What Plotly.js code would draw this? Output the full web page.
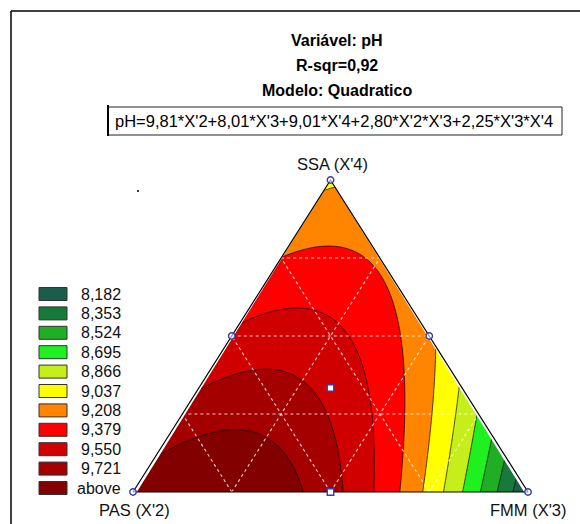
<!DOCTYPE html>
<html>
<head>
<meta charset="utf-8">
<script src="https://cdn.plot.ly/plotly-3.0.1.min.js"></script>
<style>html,body{margin:0;padding:0;background:#fff;}#chart{width:580px;height:524px;}</style>
</head>
<body>
<div id="chart"></div>
<script>
// ---- data ----
const titleLines = ['Variável: pH', 'R-sqr=0,92', 'Modelo: Quadratico'];
const equationText = "pH=9,81*X'2+8,01*X'3+9,01*X'4+2,80*X'2*X'3+2,25*X'3*X'4";
const componentLabels = ["PAS (X'2)", "FMM (X'3)", "SSA (X'4)"];
// model coefficients: linear X'2, X'3, X'4 ; interactions X'2*X'3, X'3*X'4
const linearCoef = [9.81, 8.01, 9.01];
const interactionCoef = [2.80, 2.25];
// contour levels (legend)
const levels = [8.182, 8.353, 8.524, 8.695, 8.866, 9.037, 9.208, 9.379, 9.550, 9.721];
const legendLabels = ['8,182', '8,353', '8,524', '8,695', '8,866', '9,037', '9,208', '9,379', '9,550', '9,721', 'above'];
const bandColors = ['#1b5c4a', '#167a3a', '#1fae24', '#1ff01f', '#c6ee1a', '#ffff00', '#ff8400', '#ff0000', '#d00000', '#a40000', '#820000'];
// design points (X'2, X'3, X'4)
const designX2 = [1, 0, 0, 0.5, 0, 0.5, 1/3];
const designX3 = [0, 1, 0, 0, 0.5, 0.5, 1/3];
const designX4 = [0, 0, 1, 0.5, 0.5, 0, 1/3];
const gridFractions = [0.25, 0.5, 0.75];

// ---- geometry helpers (ternary -> cartesian, triangle with unit base/height) ----
function toXY(a2, a3, a4) { return [a3 + a4 / 2, a4]; }
function model(a2, a3, a4) {
  return linearCoef[0] * a2 + linearCoef[1] * a3 + linearCoef[2] * a4 +
         interactionCoef[0] * a2 * a3 + interactionCoef[1] * a3 * a4;
}

// pixel placement of the plot
const W = 580, H = 524;
const X0pix = 133, X1pix = 528, Ybase = 492, Ytop = 180;
const sx = X1pix - X0pix, sy = Ybase - Ytop;
const xr = [-X0pix / sx, (W - X0pix) / sx];
const yr = [-(H - Ybase) / sy, Ybase / sy];
const P = px => px / W;
const Q = py => 1 - py / H;

// contour grid
const N = 241;
const gx = [], gy = [], gz = [];
for (let i = 0; i < N; i++) gx.push(i / (N - 1));
for (let j = 0; j < N; j++) gy.push(j / (N - 1));
for (let j = 0; j < N; j++) {
  const row = [];
  for (let i = 0; i < N; i++) {
    const a4 = gy[j], a3 = gx[i] - a4 / 2, a2 = 1 - a3 - a4;
    row.push(model(a2, a3, a4));
  }
  gz.push(row);
}

// stepped colorscale
const cs = [];
bandColors.forEach((c, k) => {
  const n = bandColors.length - 1;
  cs.push([Math.max(0, (k - 0.5) / n), c]);
  cs.push([Math.min(1, (k + 0.5) / n), c]);
});

const traces = [];
traces.push({
  type: 'contour', x: gx, y: gy, z: gz,
  autocontour: false,
  contours: { start: levels[0], end: levels[levels.length - 1], size: levels[1] - levels[0], coloring: 'fill' },
  colorscale: cs, showscale: false,
  line: { color: '#000', width: 0.7, smoothing: 1 },
  hoverinfo: 'skip'
});
// white masks outside triangle
traces.push({ type: 'scatter', mode: 'lines', x: [-0.05, 0, 0.5, 0.5, -0.05], y: [-0.02, -0.02, 1, 1.05, 1.05],
  fill: 'toself', fillcolor: '#fff', line: { width: 0 }, hoverinfo: 'skip', showlegend: false });
traces.push({ type: 'scatter', mode: 'lines', x: [1.05, 1, 0.5, 0.5, 1.05], y: [-0.02, -0.02, 1, 1.05, 1.05],
  fill: 'toself', fillcolor: '#fff', line: { width: 0 }, hoverinfo: 'skip', showlegend: false });
traces.push({ type: 'scatter', mode: 'lines', x: [-0.05, 1.05, 1.05, -0.05], y: [0, 0, -0.05, -0.05],
  fill: 'toself', fillcolor: '#fff', line: { width: 0 }, hoverinfo: 'skip', showlegend: false });

// dotted white grid lines
gridFractions.forEach(c => {
  const lines = [
    [toXY(1 - c, 0, c), toXY(0, 1 - c, c)],      // X'4 = c
    [toXY(1 - c, c, 0), toXY(0, c, 1 - c)],      // X'3 = c
    [toXY(c, 1 - c, 0), toXY(c, 0, 1 - c)]       // X'2 = c
  ];
  lines.forEach(l => traces.push({
    type: 'scatter', mode: 'lines', x: [l[0][0], l[1][0]], y: [l[0][1], l[1][1]],
    line: { color: 'rgba(255,255,255,0.8)', width: 1.1, dash: 'dot' }, hoverinfo: 'skip', showlegend: false
  }));
});

// triangle outline
const v = [toXY(1, 0, 0), toXY(0, 1, 0), toXY(0, 0, 1)];
traces.push({ type: 'scatter', mode: 'lines', x: [v[0][0], v[1][0], v[2][0], v[0][0]], y: [v[0][1], v[1][1], v[2][1], v[0][1]],
  line: { color: '#000', width: 1.2 }, hoverinfo: 'skip', showlegend: false });

// design points
const dpx = [], dpy = [];
designX2.forEach((a2, k) => { const p = toXY(a2, designX3[k], designX4[k]); dpx.push(p[0]); dpy.push(p[1]); });
traces.push({ type: 'scatter', mode: 'markers', x: dpx.slice(0, 5), y: dpy.slice(0, 5),
  marker: { symbol: 'circle', size: 6.5, color: 'rgba(255,255,255,0.6)', line: { color: '#3b3bb0', width: 1.4 } }, hoverinfo: 'skip', showlegend: false, cliponaxis: false });
traces.push({ type: 'scatter', mode: 'markers', x: dpx.slice(5), y: dpy.slice(5),
  marker: { symbol: 'square', size: 6.5, color: '#fff', line: { color: '#3b3bb0', width: 1.4 } }, hoverinfo: 'skip', showlegend: false, cliponaxis: false });

// ---- layout decorations ----
const FONT = 'Arial, "Liberation Sans", sans-serif';
const annotations = [];
const shapes = [];
titleLines.forEach((t, k) => annotations.push({
  xref: 'paper', yref: 'paper', x: P(337), y: Q(41 + 25 * k), text: '<b>' + t + '</b>', showarrow: false,
  xanchor: 'center', yanchor: 'middle', font: { family: FONT, size: 16, color: '#000' }
}));
annotations.push({ xref: 'paper', yref: 'paper', x: P(334), y: Q(121), text: equationText, showarrow: false,
  xanchor: 'center', yanchor: 'middle', font: { family: FONT, size: 16.5, color: '#000' } });
shapes.push({ type: 'rect', xref: 'paper', yref: 'paper', x0: P(108), x1: P(562), y0: Q(135), y1: Q(107), line: { color: '#222', width: 1 } });
shapes.push({ type: 'line', xref: 'paper', yref: 'paper', x0: P(108), x1: P(108), y0: Q(136), y1: Q(105), line: { color: '#000', width: 2 } });
// outer frame
shapes.push({ type: 'line', xref: 'paper', yref: 'paper', x0: P(11), x1: P(580), y0: Q(11), y1: Q(11), line: { color: '#000', width: 1.5 } });
shapes.push({ type: 'line', xref: 'paper', yref: 'paper', x0: P(11), x1: P(11), y0: Q(11), y1: Q(524), line: { color: '#000', width: 1.5 } });
// small stray dot
shapes.push({ type: 'circle', xref: 'paper', yref: 'paper', x0: P(137), x1: P(139), y0: Q(192), y1: Q(190), fillcolor: '#000', line: { width: 0 } });

// vertex labels
const labelPos = [[134, 510], [528, 510], [332, 164]];
componentLabels.forEach((t, k) => annotations.push({
  xref: 'paper', yref: 'paper', x: P(labelPos[k][0]), y: Q(labelPos[k][1]), text: t, showarrow: false,
  xanchor: 'center', yanchor: 'middle', font: { family: FONT, size: 16.5, color: '#111' }
}));

// legend
legendLabels.forEach((t, k) => {
  const cy = 294 + 19.4 * k;
  shapes.push({ type: 'rect', xref: 'paper', yref: 'paper', x0: P(39), x1: P(67), y0: Q(cy + 6.5), y1: Q(cy - 6.5),
    fillcolor: bandColors[k], line: { color: '#333', width: 1 } });
  annotations.push({ xref: 'paper', yref: 'paper', x: P(123), y: Q(cy), text: t, showarrow: false,
    xanchor: 'right', yanchor: 'middle', font: { family: FONT, size: 16, color: '#111' } });
});

const layout = {
  width: W, height: H, margin: { l: 0, r: 0, t: 0, b: 0 },
  paper_bgcolor: '#fff', plot_bgcolor: '#fff', showlegend: false,
  xaxis: { range: xr, visible: false, fixedrange: true },
  yaxis: { range: yr, visible: false, fixedrange: true },
  annotations: annotations, shapes: shapes
};
Plotly.newPlot('chart', traces, layout, { displayModeBar: false, staticPlot: true });
</script>
</body>
</html>
